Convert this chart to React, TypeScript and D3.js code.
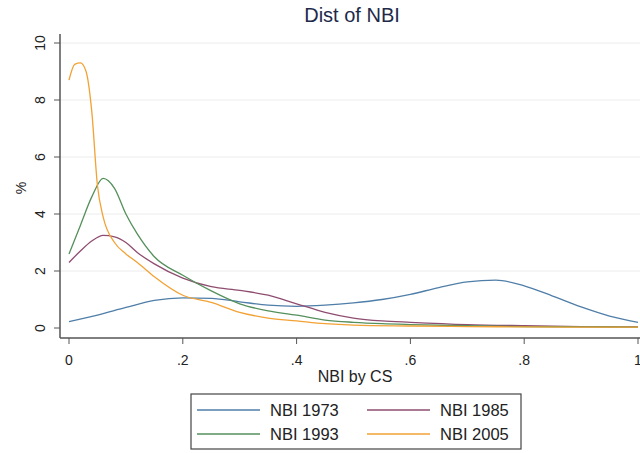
import * as d3 from 'd3';

// density curves (x = NBI by CS, y = %)
const xs1973 = [0, 0.05, 0.1, 0.15, 0.2, 0.25, 0.3, 0.35, 0.4, 0.45, 0.5, 0.55, 0.6, 0.65, 0.7, 0.75, 0.8, 0.85, 0.9, 0.95, 1.0];
const ys1973 = [0.22, 0.45, 0.72, 0.97, 1.06, 1.04, 0.92, 0.8, 0.76, 0.8, 0.88, 1.0, 1.18, 1.42, 1.62, 1.68, 1.48, 1.12, 0.74, 0.42, 0.2];

const xs1985 = [0, 0.02, 0.04, 0.06, 0.08, 0.1, 0.12, 0.15, 0.2, 0.25, 0.3, 0.35, 0.4, 0.45, 0.5, 0.55, 0.6, 0.7, 0.8, 0.9, 1.0];
const ys1985 = [2.3, 2.7, 3.05, 3.25, 3.2, 3.0, 2.65, 2.25, 1.75, 1.45, 1.32, 1.15, 0.85, 0.55, 0.35, 0.25, 0.2, 0.12, 0.08, 0.05, 0.04];

const xs1993 = [0, 0.02, 0.04, 0.06, 0.08, 0.1, 0.12, 0.15, 0.2, 0.25, 0.3, 0.35, 0.4, 0.45, 0.5, 0.55, 0.6, 0.7, 0.8, 0.9, 1.0];
const ys1993 = [2.6, 3.6, 4.6, 5.25, 4.9, 4.0, 3.3, 2.5, 1.85, 1.3, 0.85, 0.6, 0.45, 0.28, 0.2, 0.15, 0.12, 0.08, 0.05, 0.04, 0.03];

const xs2005 = [0, 0.01, 0.02, 0.03, 0.04, 0.05, 0.06, 0.08, 0.1, 0.12, 0.15, 0.2, 0.25, 0.3, 0.35, 0.4, 0.45, 0.5, 0.6, 0.7, 0.8, 0.9, 1.0];
const ys2005 = [8.7, 9.25, 9.3, 9.0, 7.6, 5.0, 3.9, 3.0, 2.6, 2.3, 1.8, 1.15, 0.9, 0.55, 0.35, 0.25, 0.15, 0.1, 0.07, 0.05, 0.04, 0.03, 0.03];

const seriesNames = ['NBI 1973', 'NBI 1985', 'NBI 1993', 'NBI 2005'];
const colors = ['#4f7ea8', '#8e4d70', '#55905c', '#f2a235'];

const xTicks = [0, 0.2, 0.4, 0.6, 0.8, 1];
const xTickLabels = ['0', '.2', '.4', '.6', '.8', '1'];
const yTicks = [0, 2, 4, 6, 8, 10];

const font = '"Liberation Sans", Arial, sans-serif';

export default function App() {
  const width = 640;
  const height = 453;

  const x = d3.scaleLinear().domain([0, 1]).range([69, 638]);
  const y = d3.scaleLinear().domain([0, 10]).range([328, 43]);

  const left = 60;
  const bottom = 338;

  const data = [
    d3.zip(xs1973, ys1973),
    d3.zip(xs1985, ys1985),
    d3.zip(xs1993, ys1993),
    d3.zip(xs2005, ys2005),
  ];

  const line = d3.line<number[]>()
    .x(d => x(d[0]))
    .y(d => y(d[1]))
    .curve(d3.curveMonotoneX);

  // legend layout
  const lg = { x: 191, y: 394, w: 330, h: 55 };

  return (
    <svg width={width} height={height} style={{ position: 'absolute', left: 0, top: 0, background: '#fff' }}
      fontFamily={font}>
      <rect width={width} height={height} fill="#fff" />
      <text x={352} y={22} textAnchor="middle" fontSize={20} fill="#1e2a4a">Dist of NBI</text>

      {/* grid */}
      {yTicks.filter(t => t > 0).map(t => (
        <line key={t} x1={left} x2={width} y1={y(t)} y2={y(t)} stroke="#ececec" strokeWidth={1} />
      ))}

      {/* curves */}
      {data.map((d, i) => (
        <path key={i} d={line(d) || ''} fill="none" stroke={colors[i]} strokeWidth={1.3} />
      ))}

      {/* y axis */}
      <line x1={left} x2={left} y1={34} y2={bottom} stroke="#555" strokeWidth={1.5} />
      {yTicks.map(t => (
        <g key={t}>
          <line x1={left - 6} x2={left} y1={y(t)} y2={y(t)} stroke="#555" />
          <text transform={`translate(45,${y(t)}) rotate(-90)`} textAnchor="middle" fontSize={14} fill="#222">{t}</text>
        </g>
      ))}
      <text transform={`translate(26,188) rotate(-90)`} textAnchor="middle" fontSize={14} fill="#222">%</text>

      {/* x axis */}
      <line x1={left} x2={width} y1={bottom} y2={bottom} stroke="#555" strokeWidth={1.5} />
      {xTicks.map((t, i) => (
        <g key={t}>
          <line x1={x(t)} x2={x(t)} y1={bottom} y2={bottom + 6} stroke="#555" />
          <text x={x(t)} y={365} textAnchor="middle" fontSize={14} fill="#222">{xTickLabels[i]}</text>
        </g>
      ))}
      <text x={355} y={382} textAnchor="middle" fontSize={16} fill="#222">NBI by CS</text>

      {/* legend */}
      <rect x={lg.x} y={lg.y} width={lg.w} height={lg.h} fill="#fff" stroke="#444" strokeWidth={1.2} />
      {seriesNames.map((name, i) => {
        const col = i % 2;
        const row = Math.floor(i / 2);
        const lx = lg.x + 6 + col * 170;
        const ly = lg.y + 16 + row * 24;
        return (
          <g key={name}>
            <line x1={lx} x2={lx + 63} y1={ly} y2={ly} stroke={colors[i]} strokeWidth={1.3} />
            <text x={lx + 73} y={ly + 6} fontSize={16.5} fill="#222">{name}</text>
          </g>
        );
      })}
    </svg>
  );
}
